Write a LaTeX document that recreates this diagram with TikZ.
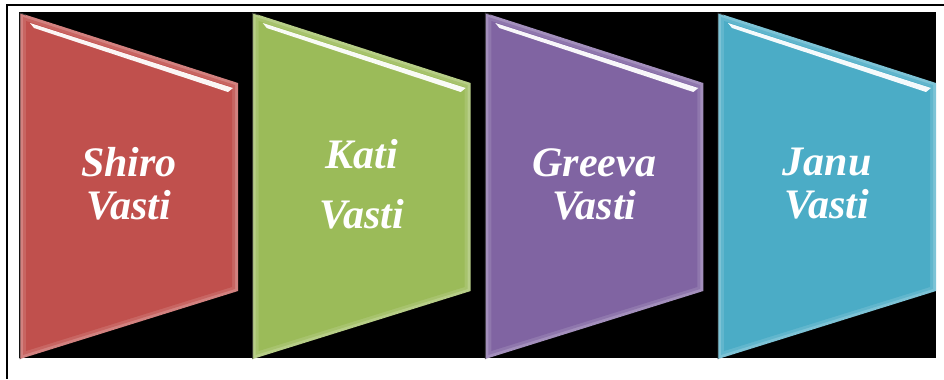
\documentclass[tikz,border=0pt]{standalone}
\usepackage{fontspec}
\setmainfont{Liberation Serif}

\definecolor{vred}{HTML}{C0504D}
\definecolor{vgreen}{HTML}{9BBB59}
\definecolor{vpurple}{HTML}{8064A2}
\definecolor{vblue}{HTML}{4BACC6}

\tikzset{
  panel text/.style={text=white, align=center, inner sep=0pt,
    font=\fontsize{31.5pt}{32.25pt}\selectfont\bfseries\itshape},
}

\begin{document}
\begin{tikzpicture}[x=0.75pt, y=-0.75pt]
    \useasboundingbox (0,0) rectangle (944,379);

    % frame lines
    \draw[line width=1.5pt] (944,5) -- (7,5) -- (7,379);

    % black backdrop
    \fill[black] (19,12) rectangle (936,358);

    % four bevelled panels
    \foreach \x/\col/\name/\txt in {
        20/vred/shiro/{Shiro\\Vasti},
        252.7/vgreen/kati/{Kati\\[12.75pt]Vasti},
        485.3/vpurple/greeva/{Greeva\\Vasti},
        718/vblue/janu/{Janu\\Vasti}}{
      \begin{scope}[shift={(\x,0)}]
        \fill[\col!72!white] (0,13) -- (218,83) -- (218,291) -- (0,359) -- cycle;
        \fill[\col!88!white] (3,17) -- (215,85) -- (215,289) -- (3,355) -- cycle;
        \fill[\col] (6,21) -- (212,87) -- (212,287) -- (6,351) -- cycle;
        \fill[white, opacity=0.95] (10,23) -- (213,88) -- (208,92) -- (14,28) -- cycle;
        \draw[black!80, line width=0.6pt] (0,359) -- (0,13) -- (6,15);
        \node[panel text] (\name) at (109,184) {\txt};
      \end{scope}
    }
\end{tikzpicture}
\end{document}
